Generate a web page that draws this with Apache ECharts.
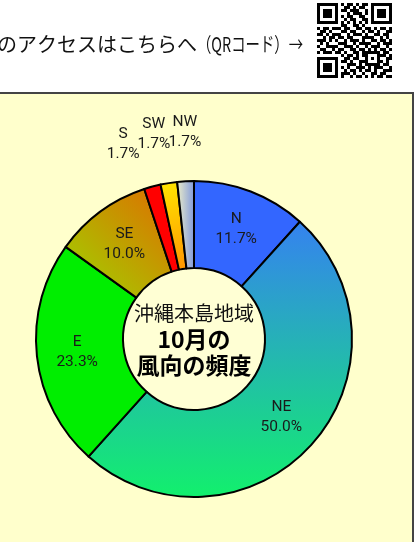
<!DOCTYPE html>
<html>
<head>
<meta charset="utf-8">
<script src="https://cdn.jsdelivr.net/npm/echarts@6/dist/echarts.min.js"></script>
<style>
html,body{margin:0;padding:0;background:#fff;}
#chart{width:414px;height:542px;}
</style>
</head>
<body>
<div id="chart"></div>
<script>
// ---- data ----
var directions = ['N', 'NE', 'E', 'SE', 'S', 'SW', 'NW'];
var frequencies = [11.7, 50.0, 23.3, 10.0, 1.7, 1.7, 1.7];
var centerTitle = ['沖縄本島地域', '10月の', '風向の頻度'];
var headerMain = 'のアクセスはこちらへ';
var headerTail = '（QRコード）→';
var outsideLabels = ['S', 'SW', 'NW'];

// ---- styles ----
var sliceColors = {
  N: '#3366FF',
  NE: {type: 'linear', x: 0, y: 0, x2: 0, y2: 1, colorStops: [{offset: 0, color: '#3582F0'}, {offset: 1, color: '#12F06C'}]},
  E: '#00EE00',
  SE: {type: 'linear', x: 1, y: 0, x2: 0, y2: 1, colorStops: [{offset: 0, color: '#E06C00'}, {offset: 1, color: '#9CD800'}]},
  S: '#FF0000',
  SW: {type: 'linear', x: 0, y: 0, x2: 1, y2: 1, colorStops: [{offset: 0, color: '#FFE800'}, {offset: 1, color: '#FF9400'}]},
  NW: {type: 'linear', x: 0, y: 0, x2: 1, y2: 0, colorStops: [{offset: 0, color: '#F0F0C8'}, {offset: 1, color: '#7C96DC'}]}
};
var labelNudge = {S: [-16, 6], SW: [-7, 0], NW: [2, 1]};

var qrRows = [
'1111111010110101101111111',
'1000001001101011001000001',
'1011101011011100101011101',
'1011101000101110101011101',
'1011101010110011001011101',
'1000001001011001101000001',
'1111111010101010101111111',
'0000000011001101000000000',
'1011011101100110110101101',
'0110100011011001011010011',
'1101011100101110100110110',
'0010110110110001111001010',
'1110101001011101001101101',
'0101000111001011110010111',
'1001111001110100101110010',
'0110010110011011010101101',
'1011101101001101111110110',
'0000000010110101100011101',
'1111111001101100101010011',
'1000001011010011100011010',
'1011101000111010111110110',
'1011101010100111010111001',
'1011101001011010110100111',
'1000001011101001001101100',
'1111111010010110101011011'
];

var ctx = document.createElement('canvas').getContext('2d');
var headFont = '20px "Noto Sans CJK JP"';
ctx.font = headFont;
var tailW = ctx.measureText(headerTail).width;
var tailScale = 106 / tailW;

var chart = echarts.init(document.getElementById('chart'), null, {renderer: 'canvas'});

var pieData = directions.map(function (d, i) {
  var item = {name: d, value: frequencies[i], itemStyle: {color: sliceColors[d]}};
  if (outsideLabels.indexOf(d) >= 0) {
    item.label = {position: 'outside', distanceToLabelLine: 0};
    item.labelLine = {show: false, length: 50, length2: 0};
  }
  return item;
});

var qrChildren = [];
var mod = 3;
qrRows.forEach(function (row, r) {
  for (var c = 0; c < row.length; c++) {
    if (row[c] === '1') {
      qrChildren.push({type: 'rect', shape: {x: c * mod, y: r * mod, width: mod, height: mod}, style: {fill: '#000'}});
    }
  }
});

var option = {
  backgroundColor: '#ffffff',
  animation: false,
  graphic: [
    {type: 'rect', z: -10, shape: {x: -3, y: 93, width: 416, height: 460}, style: {fill: '#FFFFCC', stroke: '#444444', lineWidth: 2}},
    {type: 'text', x: -3, y: 44, style: {text: headerMain, font: headFont, fill: '#111', verticalAlign: 'middle', align: 'left'}},
    {type: 'text', x: 197, y: 44, scaleX: tailScale, style: {text: headerTail, font: headFont, fill: '#111', verticalAlign: 'middle', align: 'left'}},
    {type: 'group', x: 317, y: 3, children: qrChildren}
  ],
  series: [
    {
      type: 'pie',
      center: [194, 339],
      radius: [0, 70],
      silent: true,
      z: 1,
      itemStyle: {color: '#FFFFD4', borderWidth: 0},
      label: {
        show: true,
        position: 'center',
        formatter: '{a|' + centerTitle[0] + '}\n{b|' + centerTitle[1] + '}\n{b|' + centerTitle[2] + '}',
        rich: {
          a: {fontFamily: '"Noto Sans CJK JP"', fontSize: 20, lineHeight: 27, color: '#111'},
          b: {fontFamily: '"Noto Sans CJK JP"', fontSize: 23, fontWeight: 'bold', lineHeight: 26, color: '#000'}
        }
      },
      labelLine: {show: false},
      emphasis: {disabled: true},
      data: [{value: 1, name: 'center'}]
    },
    {
      type: 'pie',
      center: [194, 339],
      radius: [71, 158],
      startAngle: 90,
      clockwise: true,
      avoidLabelOverlap: false,
      z: 2,
      itemStyle: {borderColor: '#000', borderWidth: 2},
      label: {
        show: true,
        position: 'inside',
        formatter: function (p) { return p.name + '\n' + p.value.toFixed(1) + '%'; },
        fontFamily: 'Roboto',
        fontSize: 15.5,
        lineHeight: 20,
        color: '#1a1a1a'
      },
      labelLayout: function (p) {
        var n = labelNudge[directions[p.dataIndex]] || [0, 0];
        return {align: 'center', verticalAlign: 'middle', dx: n[0], dy: n[1], hideOverlap: false};
      },
      emphasis: {disabled: true},
      data: pieData
    }
  ]
};
chart.setOption(option);
</script>
</body>
</html>
